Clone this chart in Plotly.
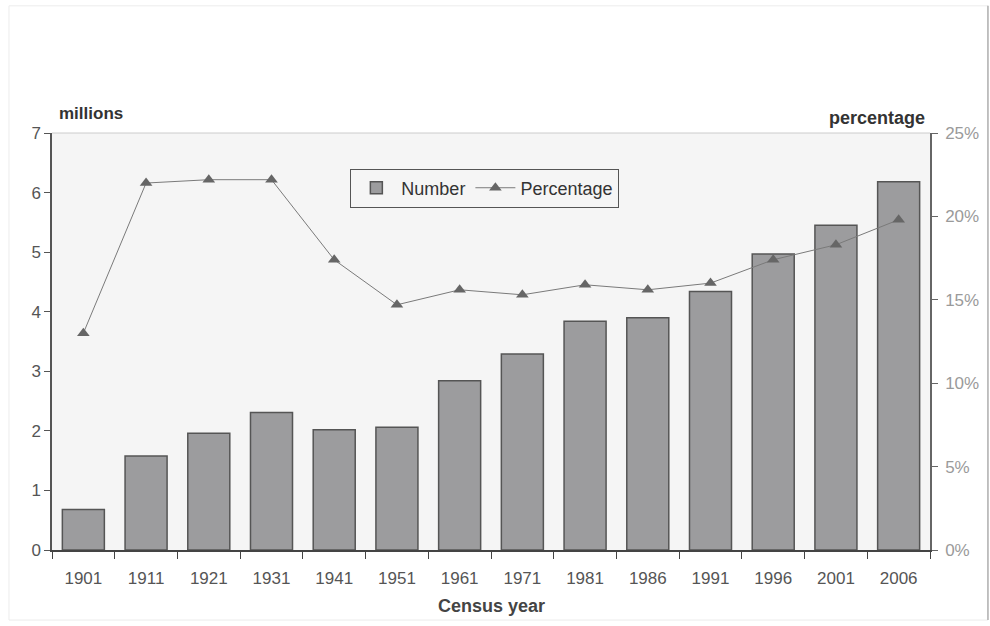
import plotly.graph_objects as go

years = ["1901", "1911", "1921", "1931", "1941", "1951", "1961", "1971", "1981", "1986", "1991", "1996", "2001", "2006"]
number_millions = [0.68, 1.58, 1.96, 2.31, 2.02, 2.06, 2.84, 3.29, 3.84, 3.90, 4.34, 4.97, 5.45, 6.18]
percentage = [13.0, 22.0, 22.2, 22.2, 17.4, 14.7, 15.6, 15.3, 15.9, 15.6, 16.0, 17.4, 18.3, 19.8]

left_ticks = [0, 1, 2, 3, 4, 5, 6, 7]
right_ticks = [0, 5, 10, 15, 20, 25]
right_tick_text = ["0%", "5%", "10%", "15%", "20%", "25%"]

font_family = "Liberation Sans, Arial, sans-serif"

fig = go.Figure()
fig.add_trace(go.Bar(
    x=years, y=number_millions, name="Number",
    marker=dict(color="#9c9c9e", line=dict(color="#555555", width=1.5)),
    yaxis="y",
))
fig.add_trace(go.Scatter(
    x=years, y=percentage, name="Percentage", mode="lines+markers",
    line=dict(color="#7a7a7a", width=1),
    marker=dict(symbol="triangle-up", size=11, color="#666666"),
    yaxis="y2",
))

fig.update_layout(
    width=990, height=626,
    margin=dict(l=52, r=60, t=133, b=76),
    paper_bgcolor="white",
    plot_bgcolor="#f5f5f5",
    font=dict(family=font_family, size=16, color="#555555"),
    bargap=0.33,
    showlegend=True,
    legend=dict(
        orientation="h", x=0.493, y=0.868, xanchor="center", yanchor="middle",
        bgcolor="#f5f5f5", bordercolor="#555555", borderwidth=1,
        font=dict(size=18, color="#333333"),
        traceorder="normal", itemwidth=40,
    ),
    xaxis=dict(
        range=[-0.5, 13.5],
        showline=True, linecolor="#444444", linewidth=1.5,
        ticks="outside", tickson="boundaries", ticklen=7, tickcolor="#444444",
        tickfont=dict(size=17, color="#555555"),
        ticklabelstandoff=12,
        showgrid=False,
    ),
    yaxis=dict(
        range=[0, 7], tickvals=left_ticks, showline=True, linecolor="#555555", linewidth=1.5,
        ticks="outside", ticklen=6, tickcolor="#555555",
        tickfont=dict(size=17, color="#555555"),
        showgrid=False, zeroline=False,
    ),
    yaxis2=dict(
        range=[0, 25], tickvals=right_ticks, ticktext=right_tick_text,
        overlaying="y", side="right",
        showline=True, linecolor="#666666", linewidth=1.5,
        ticks="outside", ticklen=6, tickcolor="#666666",
        tickfont=dict(size=17, color="#9a9a9a"),
        ticklabelstandoff=4,
        showgrid=False, zeroline=False,
    ),
    annotations=[
        dict(text="<b>millions</b>", x=0.0, y=1.0, xref="paper", yref="paper",
             xanchor="left", yanchor="bottom", xshift=5, yshift=8, showarrow=False,
             font=dict(size=17, color="#333333")),
        dict(text="<b>percentage</b>", x=1.0, y=1.0, xref="paper", yref="paper",
             xanchor="right", yanchor="bottom", xshift=-3, yshift=3, showarrow=False,
             font=dict(size=18, color="#333333")),
        dict(text="<b>Census year</b>", x=0.5, y=-0.134, xref="paper", yref="paper",
             xanchor="center", yanchor="middle", showarrow=False,
             font=dict(size=18, color="#444444")),
    ],
    shapes=[
        dict(type="line", xref="paper", yref="paper", x0=0, x1=1, y0=1, y1=1,
             line=dict(color="#cccccc", width=1)),
        dict(type="rect", xref="paper", yref="paper", x0=-0.049, x1=1.066, y0=-0.168, y1=1.305,
             line=dict(color="#ececec", width=1), layer="below"),
        dict(type="line", xref="paper", yref="paper", x0=1.066, x1=1.066, y0=-0.168, y1=1.305,
             line=dict(color="#b0b0b0", width=1.5)),
    ],
)

fig.write_html("out.html")
